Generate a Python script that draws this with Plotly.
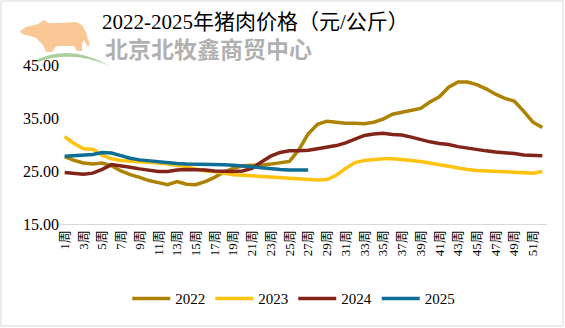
import plotly.graph_objects as go

weeks = list(range(1, 53))
tick_weeks = list(range(1, 53, 2))
tick_labels = [f"{w}周" for w in tick_weeks]

p2022 = [27.7, 27.0, 26.5, 26.3, 26.5, 26.0, 25.0, 24.3, 23.8, 23.2, 22.8, 22.4, 23.0,
         22.5, 22.4, 23.0, 23.8, 24.8, 25.5, 26.0, 26.1, 26.1, 26.3, 26.5, 26.8, 29.0,
         32.0, 33.8, 34.4, 34.2, 34.0, 34.0, 33.9, 34.2, 34.8, 35.7, 36.1, 36.4, 36.8,
         38.0, 39.0, 40.8, 41.8, 41.8, 41.3, 40.5, 39.5, 38.7, 38.2, 36.3, 34.2, 33.2]
p2023 = [31.5, 30.2, 29.2, 29.1, 28.0, 27.3, 27.0, 26.9, 26.8, 26.7, 26.5, 26.3, 26.1,
         25.8, 25.4, 25.0, 24.9, 24.6, 24.3, 24.2, 24.1, 24.0, 23.9, 23.8, 23.6, 23.5,
         23.4, 23.3, 23.4, 24.2, 25.5, 26.6, 27.0, 27.2, 27.3, 27.3, 27.2, 27.0, 26.8,
         26.5, 26.2, 25.8, 25.6, 25.3, 25.1, 25.0, 25.0, 24.9, 24.8, 24.7, 24.6, 24.9]
p2024 = [24.7, 24.5, 24.4, 24.6, 25.3, 26.2, 26.0, 25.7, 25.4, 25.1, 24.9, 24.9, 25.2,
         25.3, 25.3, 25.2, 25.0, 24.9, 24.9, 25.0, 25.5, 26.7, 27.8, 28.5, 28.8, 28.8,
         28.9, 29.2, 29.5, 29.8, 30.3, 31.0, 31.7, 32.0, 32.1, 31.9, 31.8, 31.4, 30.9,
         30.5, 30.2, 30.0, 29.6, 29.3, 29.1, 28.8, 28.6, 28.5, 28.3, 28.0, 27.9, 27.9]
p2025 = [27.8, 27.9, 28.0, 28.1, 28.5, 28.4, 27.9, 27.4, 27.1, 26.9, 26.7, 26.5, 26.4,
         26.3, 26.3, 26.3, 26.3, 26.2, 26.1, 26.0, 25.8, 25.6, 25.4, 25.3, 25.2, 25.2, 25.2]

series = [("2022", p2022, "#AD8200"), ("2023", p2023, "#FFC20E"),
          ("2024", p2024, "#822418"), ("2025", p2025, "#0F6E96")]

serif = "Liberation Serif, Times New Roman, Noto Sans CJK SC, serif"

# plot area geometry (pixels) for decorative paper-coordinate shapes
L, R, T, B = 60, 547, 65, 224


def pp(px, py):
    return f"{(px - L) / (R - L):.4f},{(B - py) / (B - T):.4f}"


fig = go.Figure()
for name, vals, col in series:
    fig.add_trace(go.Scatter(x=weeks[:len(vals)], y=vals, name=name, mode="lines",
                             line=dict(color=col, width=3.5)))

fig.update_layout(
    width=565, height=328,
    margin=dict(l=L, r=565 - R, t=T, b=328 - B),
    paper_bgcolor="white", plot_bgcolor="white",
    title=dict(text="2022-2025年猪肉价格（元/公斤）", x=0.452, xanchor="center", y=0.935,
               yanchor="middle", font=dict(family=serif, size=21, color="black")),
    showlegend=True,
    legend=dict(orientation="h", x=0.48, xanchor="center", y=-0.47, yanchor="middle",
                font=dict(family=serif, size=15, color="black"), itemwidth=38,
                tracegroupgap=0),
    xaxis=dict(range=[0.5, 52.5], tickmode="array", tickvals=tick_weeks, ticktext=tick_labels,
               tickangle=-90, tickfont=dict(family=serif, size=13, color="black"),
               showgrid=False, showline=True, linecolor="#d9d9d9", linewidth=1,
               ticks="", zeroline=False),
    yaxis=dict(range=[15, 45], tickvals=[15, 25, 35, 45], tickformat=".2f",
               tickfont=dict(family=serif, size=16, color="black"),
               showgrid=False, zeroline=False, showline=False, ticks=""),
)

# logo approximation (bull silhouette + grass arc)
bull = [(20, 31), (26, 27), (38, 24), (44, 20), (48, 23), (60, 23), (76, 22), (82, 25),
        (86, 32), (88, 40), (90, 45), (87, 46), (84, 40), (82, 44), (82, 51), (77, 51),
        (74, 46), (56, 46), (52, 52), (46, 52), (43, 45), (36, 38), (30, 36), (22, 34)]
path = "M " + " L ".join(pp(x, y) for x, y in bull) + " Z"
fig.add_shape(type="path", xref="paper", yref="paper", path=path,
              fillcolor="rgba(249,190,130,0.85)", line=dict(width=0), layer="below")
grass = f"M {pp(38, 59)} Q {pp(72, 44)} {pp(110, 66)} Q {pp(72, 50)} {pp(38, 62)} Z"
fig.add_shape(type="path", xref="paper", yref="paper", path=grass,
              fillcolor="rgba(150,195,135,0.8)", line=dict(width=0), layer="below")

fig.add_annotation(text="<b>北京北牧鑫商贸中心</b>", xref="paper", yref="paper",
                   x=(103 - L) / (R - L), xanchor="left", y=(B - 48) / (B - T), yanchor="middle",
                   showarrow=False,
                   font=dict(family="Noto Sans CJK SC", size=23, color="rgba(150,150,150,0.75)"))

fig.add_shape(type="rect", xref="paper", yref="paper", x0=(1 - L) / (R - L), x1=(563 - L) / (R - L),
              y0=(B - 326) / (B - T), y1=(B - 1) / (B - T),
              line=dict(color="#d9d9d9", width=1))

fig.write_html("out.html")
